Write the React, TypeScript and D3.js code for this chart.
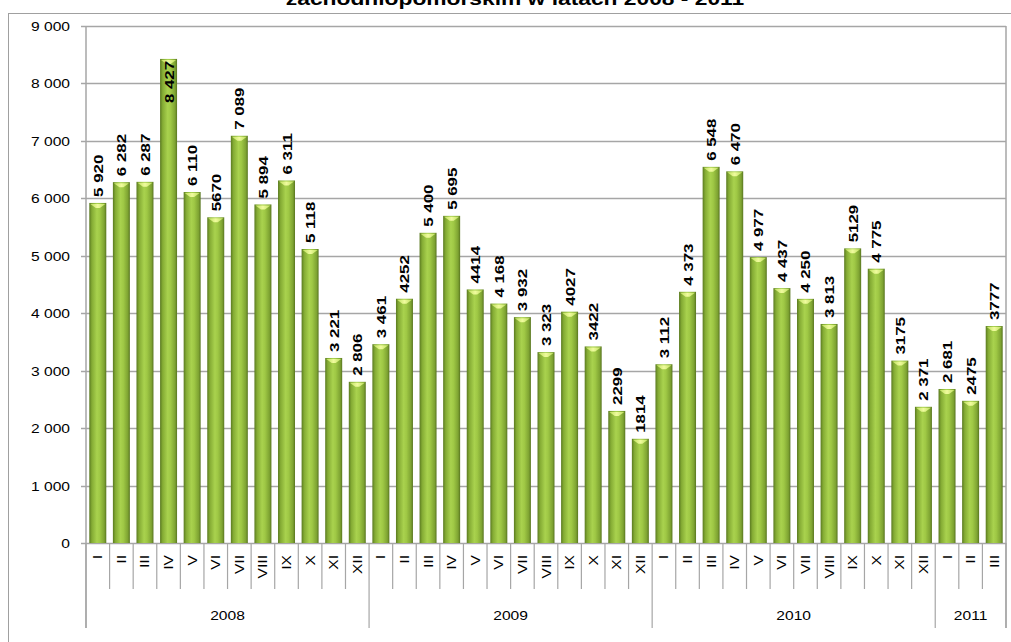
import React from 'react';
import * as d3 from 'd3';

// monthly values, Jan 2008 - Mar 2011
const years = ['2008', '2009', '2010', '2011'];
const yearMonths = [12, 12, 12, 3];
const months = ['I', 'II', 'III', 'IV', 'V', 'VI', 'VII', 'VIII', 'IX', 'X', 'XI', 'XII'];
const values = [
  5920, 6282, 6287, 8427, 6110, 5670, 7089, 5894, 6311, 5118, 3221, 2806,
  3461, 4252, 5400, 5695, 4414, 4168, 3932, 3323, 4027, 3422, 2299, 1814,
  3112, 4373, 6548, 6470, 4977, 4437, 4250, 3813, 5129, 4775, 3175, 2371,
  2681, 2475, 3777
];
const valueLabels = [
  '5 920', '6 282', '6 287', '8 427', '6 110', '5670', '7 089', '5 894', '6 311', '5 118', '3 221', '2 806',
  '3 461', '4252', '5 400', '5 695', '4414', '4 168', '3 932', '3 323', '4027', '3422', '2299', '1814',
  '3 112', '4 373', '6 548', '6 470', '4 977', '4 437', '4 250', '3 813', '5129', '4 775', '3175', '2 371',
  '2 681', '2475', '3777'
];
const yTicks = [0, 1000, 2000, 3000, 4000, 5000, 6000, 7000, 8000, 9000];
const title = 'zachodniopomorskim w latach 2008 - 2011';

const W = 1011;
const H = 642;
const left = 86;
const right = 1006;
const top = 26;
const bottom = 543;
const font = '"Liberation Sans", Arial, sans-serif';
const grid = '#a6a6a6';
// the original text is drawn a little stretched along its direction
const stretch = 1.2;

export default function App() {
  const monthLabels = yearMonths.flatMap(n => months.slice(0, n));
  const idx = d3.range(values.length);

  const x = d3
    .scaleBand<number>()
    .domain(idx)
    .range([left, right])
    .paddingInner(0.28)
    .paddingOuter(0.14);
  const step = x.step();
  const y = d3.scaleLinear().domain([0, 9000]).range([bottom, top]);
  const fmt = (v: number) => d3.format(',')(v).replace(/,/g, ' ');

  // year group boundaries as category indices
  const bounds = [0];
  yearMonths.forEach(n => bounds.push(bounds[bounds.length - 1] + n));
  const edge = (i: number) => left + i * step;

  return (
    <svg width={W} height={H} style={{ position: 'absolute', left: 0, top: 0, background: '#fff' }}>
      <defs>
        <linearGradient id="bar" x1="0" x2="1" y1="0" y2="0">
          <stop offset="0" stopColor="#5a7a20" />
          <stop offset="0.15" stopColor="#84ab34" />
          <stop offset="0.45" stopColor="#a9d24e" />
          <stop offset="0.62" stopColor="#9fc845" />
          <stop offset="0.88" stopColor="#7ea332" />
          <stop offset="1" stopColor="#587520" />
        </linearGradient>
        <linearGradient id="cap" x1="0" x2="1" y1="0" y2="0">
          <stop offset="0" stopColor="#bde05c" />
          <stop offset="0.5" stopColor="#f0fb9e" />
          <stop offset="1" stopColor="#bde05c" />
        </linearGradient>
      </defs>

      <rect x={8.5} y={13.5} width={1100} height={700} fill="none" stroke="#a0a0a0" />

      <text
        transform={`translate(515,5) scale(${stretch},1)`}
        textAnchor="middle"
        fontFamily={font}
        fontWeight="bold"
        fontSize={19}
      >
        {title}
      </text>

      {yTicks.map(t => (
        <g key={t}>
          <line x1={left - 5} x2={right} y1={Math.round(y(t)) + 0.5} y2={Math.round(y(t)) + 0.5} stroke={grid} strokeWidth={1.5} />
          <text
            transform={`translate(70,${y(t) + 5}) scale(${stretch},1)`}
            textAnchor="end"
            fontFamily={font}
            fontSize={13}
          >
            {fmt(t)}
          </text>
        </g>
      ))}

      <line x1={left} x2={left} y1={top} y2={628} stroke={grid} strokeWidth={1.5} />
      <line x1={right} x2={right} y1={top} y2={628} stroke={grid} strokeWidth={1.5} />

      {d3.range(values.length + 1).map(i => (
        <line
          key={'s' + i}
          x1={edge(i)}
          x2={edge(i)}
          y1={bottom}
          y2={bounds.includes(i) ? 628 : 589}
          stroke={grid}
          strokeWidth={1.2}
        />
      ))}

      {idx.map(i => {
        const bx = x(i) as number;
        const bw = x.bandwidth();
        const by = y(values[i]);
        const cx = bx + bw / 2;
        const inside = by - 45 < top;
        return (
          <g key={i}>
            <rect x={bx} y={by} width={bw} height={bottom - by} fill="url(#bar)" />
            <path
              d={`M${bx + 1},${by + 1} L${bx + bw - 1},${by + 1} L${cx + 2},${by + 5} L${cx - 2},${by + 5} Z`}
              fill="url(#cap)"
            />
            <text
              transform={`translate(${cx + 5},${inside ? by + 2 : by - 6}) rotate(-90) scale(1.25,1)`}
              textAnchor={inside ? 'end' : 'start'}
              fontFamily={font}
              fontWeight="bold"
              fontSize={13.5}
            >
              {valueLabels[i]}
            </text>
            <text
              transform={`translate(${cx + 4.5},555) rotate(-90) scale(${stretch},1)`}
              textAnchor="end"
              fontFamily={font}
              fontSize={13}
            >
              {monthLabels[i]}
            </text>
          </g>
        );
      })}

      {years.map((yr, k) => (
        <text
          key={yr}
          transform={`translate(${(edge(bounds[k]) + edge(bounds[k + 1])) / 2},620) scale(${stretch},1)`}
          textAnchor="middle"
          fontFamily={font}
          fontSize={13}
        >
          {yr}
        </text>
      ))}
    </svg>
  );
}
